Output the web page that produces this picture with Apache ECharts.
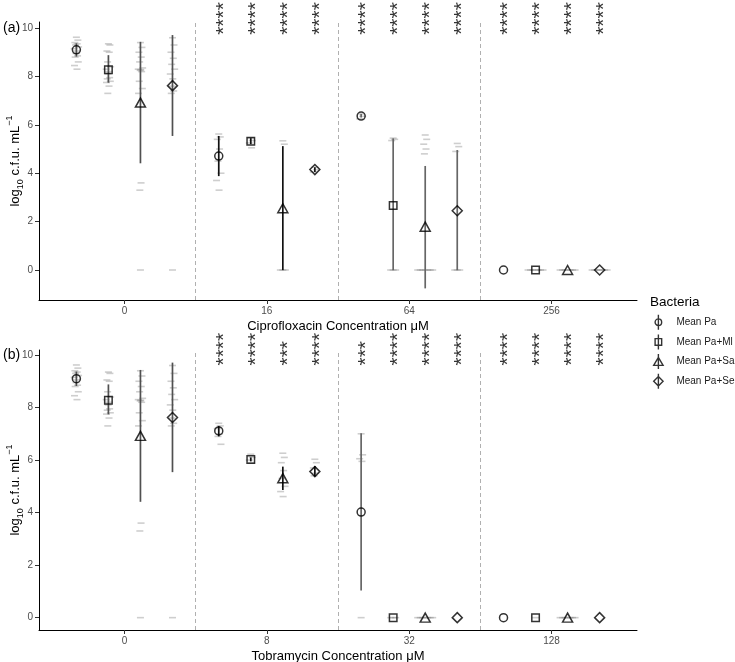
<!DOCTYPE html>
<html>
<head>
<meta charset="utf-8">
<script src="https://cdn.jsdelivr.net/npm/echarts@6/dist/echarts.min.js"></script>
<style>
  html, body { margin: 0; padding: 0; background: #fff; }
  #chart { width: 735px; height: 662px; }
</style>
</head>
<body>
<div id="chart"></div>
<script>
// ---- data ----
const bacteria = ['Mean Pa', 'Mean Pa+Ml', 'Mean Pa+Sa', 'Mean Pa+Se'];
const cipConc = ['0', '16', '64', '256'];
const tobConc = ['0', '8', '32', '128'];
const yTicks = [0, 2, 4, 6, 8, 10];

// rows = concentration, cols = bacteria
const cipMean = [[9.10, 8.28, 6.92, 7.62], [4.71, 5.32, 2.55, 4.15], [6.36, 2.67, 1.79, 2.45], [0, 0, 0, 0]];
const cipLow  = [[8.82, 7.74, 4.41, 5.54], [3.88, 5.20, 0, 4.05], [6.30, 0, -0.76, 0], [0, 0, 0, 0]];
const cipHigh = [[9.37, 8.88, 9.43, 9.71], [5.54, 5.45, 5.12, 4.25], [6.45, 5.44, 4.30, 4.96], [0, 0, 0, 0]];
const cipStars = [['', '', '', ''], ['****', '****', '****', '****'], ['****', '****', '****', '****'], ['****', '****', '****', '****']];

const tobMean = [[9.10, 8.28, 6.92, 7.62], [7.11, 6.02, 5.31, 5.56], [4.02, 0, 0, 0], [0, 0, 0, 0]];
const tobLow  = [[8.82, 7.74, 4.41, 5.54], [6.90, 5.95, 4.86, 5.37], [1.03, 0, 0, 0], [0, 0, 0, 0]];
const tobHigh = [[9.37, 8.88, 9.43, 9.71], [7.30, 6.10, 5.75, 5.77], [7.02, 0, 0, 0], [0, 0, 0, 0]];
const tobStars = [['', '', '', ''], ['****', '****', '***', '****'], ['***', '****', '****', '****'], ['****', '****', '****', '****']];

// individual replicate values (grey dashes)
const ctrlPoints = [
  [9.62, 9.5, 9.4, 9.35, 9.3, 9.22, 9.15, 9.05, 8.95, 8.85, 8.8, 8.6, 8.45, 8.3],
  [9.35, 9.3, 9.05, 9.0, 8.6, 8.4, 8.3, 8.2, 8.1, 7.95, 7.9, 7.8, 7.75, 7.6, 7.3],
  [9.4, 9.2, 9.0, 8.8, 8.6, 8.35, 8.3, 8.28, 8.25, 8.2, 7.8, 7.5, 7.3, 3.6, 3.3, 0],
  [9.6, 9.3, 9.0, 8.75, 8.5, 8.3, 8.1, 7.9, 7.6, 7.4, 7.3, 0]
];
const cipPoints = [
  ctrlPoints,
  [[5.62, 5.5, 5.4, 5.0, 4.5, 4.0, 3.7, 3.3], [5.45, 5.35, 5.25, 5.05], [5.34, 5.2, 0, 0, 0], [4.25, 4.15, 4.05]],
  [[6.45, 6.35, 6.25], [5.45, 5.4, 5.35, 0, 0, 0], [5.58, 5.4, 5.2, 5.0, 4.8, 0, 0, 0, 0, 0, 0, 0], [5.23, 5.1, 4.9, 0, 0, 0]],
  [[], [0, 0, 0, 0, 0, 0, 0], [0, 0, 0, 0, 0, 0, 0], [0, 0, 0, 0, 0, 0, 0]]
];
const tobPoints = [
  ctrlPoints,
  [[7.4, 7.3, 7.2, 7.0, 6.9, 6.6], [6.22, 6.1, 6.0, 5.9], [6.26, 6.1, 5.9, 5.6, 5.3, 5.0, 4.8, 4.61], [6.03, 5.9, 5.7, 5.5, 5.4]],
  [[7.0, 6.2, 6.05, 5.95, 0], [0, 0, 0], [0, 0, 0, 0, 0, 0, 0], []],
  [[], [0], [0, 0, 0, 0, 0, 0, 0], []]
];

// ---- layout / style ----
const FONT = '"Liberation Sans", Arial, sans-serif';
const dodge = [-0.3375, -0.1125, 0.1125, 0.3375];
const symbols = ['circle', 'rect', 'triangle', 'diamond'];
const symbolSizes = [8, 7.5, [10, 9], [10, 10]];
const barColors = ['#505050', '#111111', '#666666', '#111111'];
const smallJitter = [0, 1.5, -1.5, 0.8, -0.8, 2.2, -2.2, 0.3, -0.3, 1.2, -1.2, 1.9, -1.9, 0.6, -0.6];
const legendIcons = [
  'path://M5,0L5,16M8.5,8A3.5,3.5,0,1,1,1.5,8A3.5,3.5,0,1,1,8.5,8Z',
  'path://M5,0L5,16M1.5,4.5L8.5,4.5L8.5,11.5L1.5,11.5Z',
  'path://M5,0L5,16M5,3.5L10,12L0,12Z',
  'path://M5,0L5,16M5,3L10,8L5,13L0,8Z'
];

const panels = [
  { conc: cipConc, mean: cipMean, low: cipLow, high: cipHigh, stars: cipStars, points: cipPoints,
    title: 'Ciprofloxacin Concentration μM', top: 22, height: 278, min: -1.24, max: 10.25, starY: 9.72 },
  { conc: tobConc, mean: tobMean, low: tobLow, high: tobHigh, stars: tobStars, points: tobPoints,
    title: 'Tobramycin Concentration μM', top: 350, height: 280, min: -0.47, max: 10.19, starY: 9.6 }
];

const chart = echarts.init(document.getElementById('chart'), null, { renderer: 'canvas' });

const grids = [], xAxes = [], yAxes = [], series = [];

panels.forEach((pn, p) => {
  grids.push({ left: 39, top: pn.top, width: 598, height: pn.height, containLabel: false, outerBoundsMode: 'none' });

  xAxes.push({
    type: 'value', gridIndex: p, min: -0.6, max: 3.6,
    name: pn.title, nameLocation: 'middle', nameGap: 20, nameMoveOverlap: false,
    nameTextStyle: { fontSize: 13, color: '#000', fontFamily: FONT },
    axisLine: { show: true, onZero: false, lineStyle: { color: '#000', width: 1 } },
    axisTick: { show: true, length: 4, customValues: [0, 1, 2, 3], lineStyle: { color: '#333' } },
    axisLabel: { customValues: [0, 1, 2, 3], margin: 6, fontSize: 10, color: '#4d4d4d', fontFamily: FONT,
      formatter: v => pn.conc[Math.round(v)] },
    splitLine: { show: false }
  });

  yAxes.push({
    type: 'value', gridIndex: p, min: pn.min, max: pn.max,
    name: '{n|log}{s|10}{n| c.f.u. mL}{p|−1}', nameLocation: 'middle', nameGap: 14, nameRotate: 90,
    nameMoveOverlap: false,
    nameTextStyle: {
      fontSize: 13, color: '#000', fontFamily: FONT,
      rich: {
        n: { fontSize: 13, lineHeight: 20, color: '#000', fontFamily: FONT },
        s: { fontSize: 9, lineHeight: 20, verticalAlign: 'bottom', color: '#000', fontFamily: FONT },
        p: { fontSize: 9, lineHeight: 20, verticalAlign: 'top', color: '#000', fontFamily: FONT }
      }
    },
    axisLine: { show: true, onZero: false, lineStyle: { color: '#000', width: 1 } },
    axisTick: { show: true, length: 4, customValues: yTicks, lineStyle: { color: '#333' } },
    axisLabel: { customValues: yTicks, margin: 6, fontSize: 10, color: '#4d4d4d', fontFamily: FONT },
    splitLine: { show: false }
  });

  // dashed separators between concentrations
  series.push({
    type: 'scatter', xAxisIndex: p, yAxisIndex: p, data: [], silent: true, z: 1,
    markLine: {
      silent: true, symbol: ['none', 'none'], label: { show: false },
      lineStyle: { color: '#b0b0b0', type: [4, 3], width: 1 },
      data: [{ xAxis: 0.5 }, { xAxis: 1.5 }, { xAxis: 2.5 }]
    }
  });

  bacteria.forEach((name, b) => {
    // grey replicate dashes
    const pts = [];
    pn.conc.forEach((c, g) => {
      const vals = pn.points[g][b];
      const nZero = vals.filter(v => v === 0).length;
      let zi = 0, ni = 0;
      vals.forEach(v => {
        let off;
        if (v === 0) { off = (zi - (nZero - 1) / 2) * 2.5; zi++; }
        else { off = smallJitter[ni % smallJitter.length]; ni++; }
        pts.push({ value: [g + dodge[b], v], symbolOffset: [off, 0] });
      });
    });
    series.push({
      type: 'scatter', xAxisIndex: p, yAxisIndex: p, silent: true, z: 2,
      symbol: 'rect', symbolSize: [7, 1.6],
      itemStyle: { color: 'rgba(120,120,120,0.45)' },
      data: pts
    });

    // error bars
    series.push({
      type: 'custom', xAxisIndex: p, yAxisIndex: p, silent: true, z: 3,
      data: pn.conc.map((c, g) => [g + dodge[b], pn.low[g][b], pn.high[g][b], g]),
      encode: { x: 0, y: [1, 2] },
      renderItem: (params, api) => {
        const a = api.coord([api.value(0), api.value(1)]);
        const t = api.coord([api.value(0), api.value(2)]);
        return {
          type: 'line',
          shape: { x1: a[0], y1: a[1], x2: t[0], y2: t[1] },
          style: { stroke: barColors[api.value(3)], lineWidth: 1.7 }
        };
      }
    });

    // means
    series.push({
      name: name, type: 'scatter', xAxisIndex: p, yAxisIndex: p, z: 4,
      symbol: symbols[b], symbolSize: symbolSizes[b],
      itemStyle: { color: 'rgba(0,0,0,0)', borderColor: '#000', borderWidth: 1.5 },
      data: pn.conc.map((c, g) => [g + dodge[b], pn.mean[g][b]])
    });

    // significance stars
    series.push({
      type: 'scatter', xAxisIndex: p, yAxisIndex: p, silent: true, z: 5,
      symbolSize: 1, itemStyle: { color: 'rgba(0,0,0,0)' },
      data: pn.conc.map((c, g) => ({ value: [g + dodge[b], pn.starY], s: pn.stars[g][b] })).filter(d => d.s),
      label: {
        show: true, position: 'inside', rotate: 90, align: 'left', verticalAlign: 'middle',
        offset: [0, 5], fontSize: 21, color: '#000', fontFamily: FONT,
        formatter: prm => prm.data.s
      }
    });
  });
});

chart.setOption({
  animation: false,
  backgroundColor: '#fff',
  grid: grids,
  xAxis: xAxes,
  yAxis: yAxes,
  legend: {
    data: bacteria.map((n, i) => ({ name: n, icon: legendIcons[i] })),
    orient: 'vertical', left: 653, top: 314, padding: 0, itemWidth: 10, itemHeight: 15, itemGap: 3.3,
    selectedMode: false,
    itemStyle: { color: 'rgba(0,0,0,0)', borderColor: '#000', borderWidth: 1.4 },
    textStyle: { fontSize: 10, color: '#1a1a1a', fontFamily: FONT, padding: [0, 0, 0, 8] }
  },
  graphic: [
    { type: 'text', left: 3, top: 21, style: { text: '(a)', fontSize: 14, fill: '#000', fontFamily: FONT } },
    { type: 'text', left: 3, top: 348, style: { text: '(b)', fontSize: 14, fill: '#000', fontFamily: FONT } },
    { type: 'text', left: 650, top: 295, style: { text: 'Bacteria', fontSize: 13.5, fill: '#000', fontFamily: FONT } }
  ],
  series: series
});
</script>
</body>
</html>
